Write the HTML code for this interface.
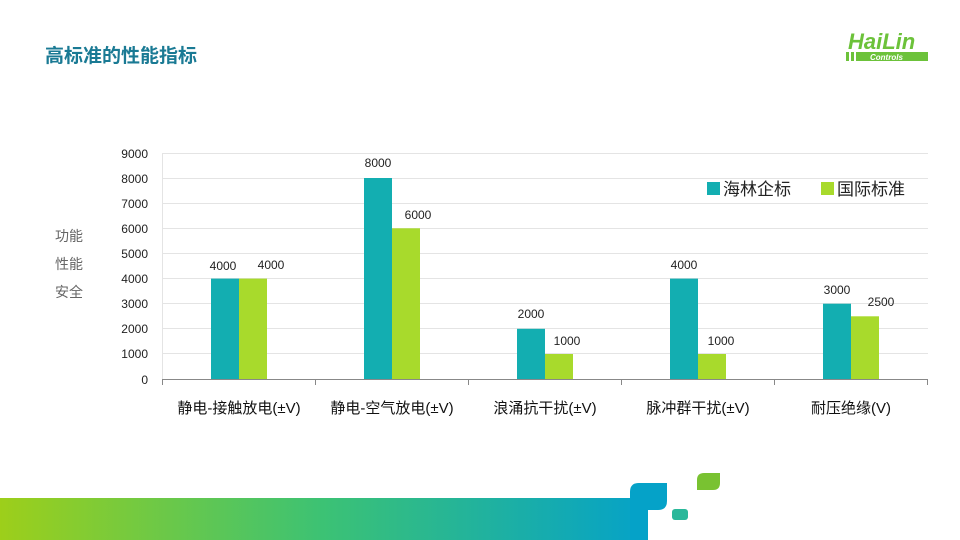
<!DOCTYPE html>
<html><head><meta charset="utf-8"><style>
body{margin:0;width:960px;height:540px;overflow:hidden;background:#fff;font-family:"Liberation Sans","Noto Sans CJK SC",sans-serif;}
</style></head><body>
<svg width="960" height="540" viewBox="0 0 960 540" xmlns="http://www.w3.org/2000/svg" style="position:absolute;left:0;top:0">
<defs>
<linearGradient id="g" x1="0" x2="1" y1="0" y2="0">
<stop offset="0" stop-color="#9dcf1a"/><stop offset="0.5" stop-color="#3cc274"/><stop offset="1" stop-color="#05a2c8"/>
</linearGradient>
</defs>
<text x="45" y="62" font-size="19" font-weight="bold" fill="#1a7a94" font-family="Liberation Sans,Noto Sans CJK SC,sans-serif">高标准的性能指标</text>
<text x="848" y="49" font-size="22" font-weight="bold" font-style="italic" fill="#6cc23a" font-family="Liberation Sans,sans-serif">HaiLin</text>
<rect x="846" y="52" width="3" height="9" fill="#6cc23a"/><rect x="851" y="52" width="3" height="9" fill="#6cc23a"/>
<rect x="856" y="52" width="72" height="9" fill="#6cc23a"/>
<text x="870" y="60" font-size="8" font-weight="bold" font-style="italic" fill="#fff">Controls</text>
<!-- grid -->
<g stroke="#e4e4e4" stroke-width="1">
<line x1="162" x2="928" y1="153.5" y2="153.5"/><line x1="162" x2="928" y1="178.5" y2="178.5"/>
<line x1="162" x2="928" y1="203.5" y2="203.5"/><line x1="162" x2="928" y1="228.5" y2="228.5"/>
<line x1="162" x2="928" y1="253.5" y2="253.5"/><line x1="162" x2="928" y1="278.5" y2="278.5"/>
<line x1="162" x2="928" y1="303.5" y2="303.5"/><line x1="162" x2="928" y1="328.5" y2="328.5"/>
<line x1="162" x2="928" y1="353.5" y2="353.5"/>
<line x1="162.5" x2="162.5" y1="153" y2="379"/>
</g>
<g stroke="#888"><line x1="162" x2="928" y1="379.5" y2="379.5"/>
<line x1="162.5" x2="162.5" y1="379" y2="385"/><line x1="315.5" x2="315.5" y1="379" y2="385"/><line x1="468.5" x2="468.5" y1="379" y2="385"/><line x1="621.5" x2="621.5" y1="379" y2="385"/><line x1="774.5" x2="774.5" y1="379" y2="385"/><line x1="927.5" x2="927.5" y1="379" y2="385"/></g>
<g font-size="12" fill="#222" text-anchor="end">
<text x="148" y="158">9000</text><text x="148" y="183">8000</text><text x="148" y="208">7000</text><text x="148" y="233">6000</text><text x="148" y="258">5000</text><text x="148" y="283">4000</text><text x="148" y="308">3000</text><text x="148" y="333">2000</text><text x="148" y="358">1000</text><text x="148" y="384">0</text>
</g>
<g fill="#13aeb1">
<rect x="211" y="278.6" width="28" height="100.4"/><rect x="364" y="178" width="28" height="201"/><rect x="517" y="328.8" width="28" height="50.2"/><rect x="670" y="278.6" width="28" height="100.4"/><rect x="823" y="303.7" width="28" height="75.3"/>
</g>
<g fill="#a8da2c">
<rect x="239" y="278.6" width="28" height="100.4"/><rect x="392" y="228.3" width="28" height="150.7"/><rect x="545" y="354" width="28" height="25"/><rect x="698" y="354" width="28" height="25"/><rect x="851" y="316.3" width="28" height="62.7"/>
</g>
<g font-size="12" fill="#222" text-anchor="middle">
<text x="223" y="270">4000</text><text x="271" y="269">4000</text>
<text x="378" y="167">8000</text><text x="418" y="219">6000</text>
<text x="531" y="318">2000</text><text x="567" y="345">1000</text>
<text x="684" y="269">4000</text><text x="721" y="345">1000</text>
<text x="837" y="294">3000</text><text x="881" y="306">2500</text>
</g>
<g font-size="15" fill="#111" text-anchor="middle">
<text x="239" y="413">静电-接触放电(±V)</text><text x="392" y="413">静电-空气放电(±V)</text><text x="545" y="413">浪涌抗干扰(±V)</text><text x="698" y="413">脉冲群干扰(±V)</text><text x="851" y="413">耐压绝缘(V)</text>
</g>
<g font-size="14" fill="#666"><text x="55" y="241">功能</text><text x="55" y="269">性能</text><text x="55" y="297">安全</text></g>
<rect x="707" y="182" width="13" height="13" fill="#13aeb1"/>
<text x="723" y="195" font-size="17" fill="#222">海林企标</text>
<rect x="821" y="182" width="13" height="13" fill="#a8da2c"/>
<text x="837" y="195" font-size="17" fill="#222">国际标准</text>
<!-- bottom band -->
<rect x="0" y="498" width="645" height="42" fill="url(#g)"/>
<path d="M630 492 Q630 483 639 483 H667 V501 Q667 510 658 510 H648 V540 H630 Z" fill="#05a2c8"/>
<rect x="672" y="509" width="16" height="11" rx="3" fill="#2ab89a"/>
<path d="M697 480 Q697 473 704 473 H720 V483 Q720 490 713 490 H697 Z" fill="#79c231"/>
</svg>
</body></html>
